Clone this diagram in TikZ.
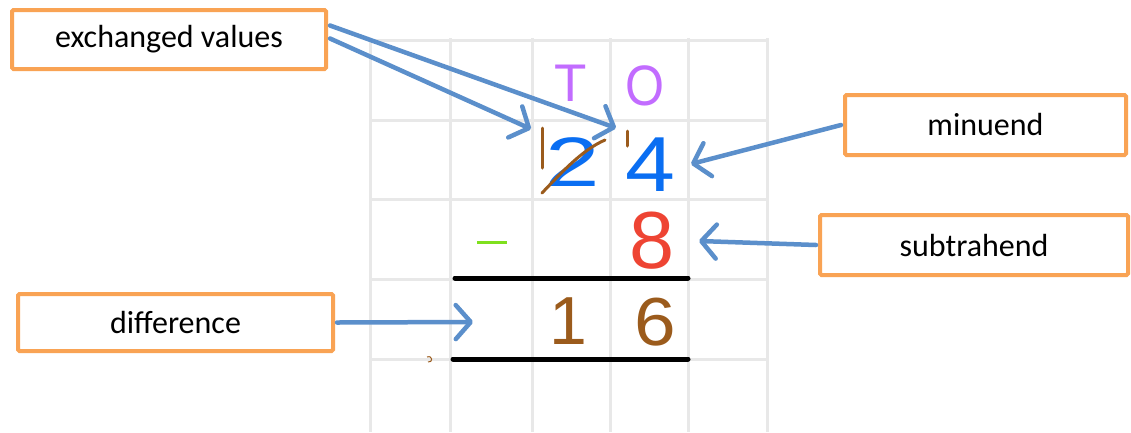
\documentclass[tikz,border=0pt]{standalone}
\usepackage{fontspec}
\setmainfont{Carlito}
\newfontfamily\handfont{Liberation Sans}
\usetikzlibrary{arrows.meta,calc}
\definecolor{boxorange}{HTML}{F9A354}
\definecolor{arrowblue}{HTML}{5B8FCB}
\definecolor{gridgray}{HTML}{E8E8E8}
\definecolor{digblue}{HTML}{0A6EF2}
\definecolor{digred}{HTML}{EE4433}
\definecolor{digbrown}{HTML}{9B5B1C}
\definecolor{digpurple}{HTML}{C26CFF}
\definecolor{diggreen}{HTML}{7FE01E}
\begin{document}
\begin{tikzpicture}[x=1pt,y=-1pt,
  labelbox/.style={draw=boxorange,line width=4pt,fill=white,rounded corners=1.5pt,
    font=\fontsize{32}{38}\selectfont,inner sep=0pt,text=black},
  pointer/.style={draw=arrowblue,line width=4.5pt,line cap=round,
    -{Straight Barb[length=15pt,width=34pt,round]}},
  gridline/.style={draw=gridgray,line width=3pt},
  blackrule/.style={draw=black,line width=5pt,line cap=round},
  digit/.style={inner sep=0pt,font=\handfont\fontsize{#1}{#1}\selectfont},
  inkstroke/.style={draw=digbrown,line width=3pt,line cap=round},
]
\useasboundingbox (0,0) rectangle (1131,432);
\fill[white] (0,0) rectangle (1131,432);
% grid
\foreach \gx in {370,450,532,610,688,767} \draw[gridline] (\gx,38) -- (\gx,432);
\foreach \gy in {40,120,199,279,359} \draw[gridline] (370,\gy) -- (767,\gy);
% rules
\draw[blackrule] (455,278) -- (688,278);
\draw[blackrule] (453,359) -- (688,359);
% digits
\node[digit=53,text=digpurple] (tT) at (571,83) {T};
\node[digit=57,text=digpurple,xscale=0.88] (tO) at (645,86) {O};
\node[digit=70,text=digblue,xscale=1.4] (d2) at (573,162) {2};
\node[digit=78,text=digblue,xscale=1.15] (d4) at (650,165) {4};
\node[digit=81,text=digred] (d8) at (652,241) {8};
\node[digit=68,text=digbrown] (d1) at (568,321) {1};
\node[digit=68,text=digbrown,xscale=1.1] (d6) at (655,322) {6};
\draw[draw=diggreen,line width=3pt] (477,242) -- (507,242);
% exchange marks
\draw[inkstroke] (542,128) -- (542,168);
\draw[inkstroke] (627,131) -- (627,146);
\draw[inkstroke] (542,193) .. controls (562,172) and (582,150) .. (605,140);
\draw[draw=digbrown,line width=1pt] (427,357) .. controls (433,355) and (433,363) .. (428,362);
% target points
\coordinate (t2) at (531,129);
\coordinate (t4) at (616,128);
\coordinate (tm) at (691,164);
\coordinate (ts) at (699,241);
\coordinate (td) at (473,322);
% boxes
\node[labelbox,minimum width=314pt,minimum height=59pt] (ex) at (169,39.5) {exchanged values};
\node[labelbox,minimum width=281pt,minimum height=60pt] (mi) at (985.5,125) {minuend};
\node[labelbox,minimum width=308pt,minimum height=60pt] (su) at (974,245) {subtrahend};
\node[labelbox,minimum width=315pt,minimum height=57pt] (di) at (175.5,322.5) {difference};
% arrows
\draw[pointer] ($(ex.east)+(2,-14)$) -- (t4);
\draw[pointer] ($(ex.east)+(2,-1)$) -- (t2);
\draw[pointer] ($(mi.west)+(-2,0)$) -- (tm);
\draw[pointer] ($(su.west)+(-2,0)$) -- (ts);
\draw[pointer] ($(di.east)+(2,0)$) -- (td);
\end{tikzpicture}
\end{document}
